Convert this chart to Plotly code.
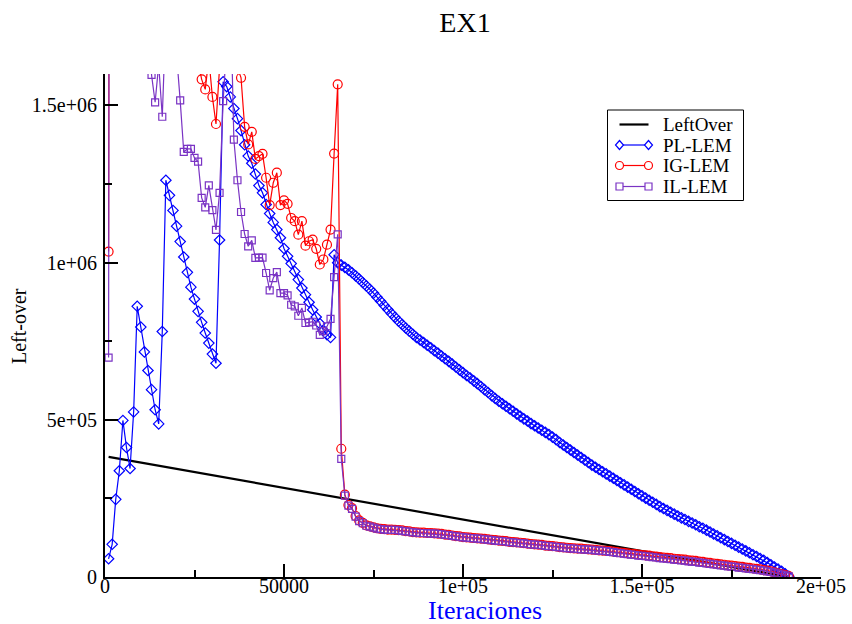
import plotly.graph_objects as go

# ---------------- data ----------------
iterations = list(range(1000, 192000, 1000))  # 1000 .. 191000

leftover_x = [1000, 50000, 100000, 150000, 191000]
leftover_y = [382000, 283500, 183000, 82400, 0]

pl_lem = [
    # 1-16
    58000, 104000, 247000, 338000, 498000, 412000, 345000, 525000,
    861000, 795000, 716000, 657000, 596000, 532000, 487000, 781000,
    # 17-32
    1262000, 1214000, 1166000, 1116000, 1067000, 1018000, 969000, 922000,
    884000, 845000, 810000, 776000, 744000, 709000, 680000, 1072000,
    # 33-48
    1575000, 1560000, 1527000, 1490000, 1458000, 1420000, 1375000, 1339000,
    1316000, 1282000, 1245000, 1222000, 1185000, 1156000, 1128000, 1105000,
    # 49-64
    1079000, 1045000, 1020000, 997000, 972000, 946000, 919000, 898000,
    874000, 850000, 827000, 806000, 785000, 771000, 762000, 1025000,
    # 65-74
    1000000, 992000, 985000, 977000, 968000, 958000, 948000, 937000, 926000, 915000,
    # 75-84
    903000, 890000, 877000, 864000, 851000, 838000, 826000, 814000, 803000, 792000,
    # 85-94
    782000, 772000, 762000, 754000, 746000, 737000, 729000, 720000, 712000, 703000,
    # 95-104
    694000, 686000, 677000, 668000, 659000, 650000, 641000, 633000, 624000, 615000,
    # 105-114
    606000, 596000, 587000, 577000, 568000, 559000, 551000, 543000, 535000, 527000,
    # 115-124
    519000, 511000, 503000, 496000, 488000, 481000, 474000, 467000, 460000, 453000,
    # 125-134
    445000, 437000, 428000, 420000, 412000, 404000, 396000, 388000, 380000, 372000,
    # 135-144
    364000, 356000, 349000, 342000, 335000, 328000, 321000, 314000, 307000, 300000,
    # 145-154
    293000, 286000, 279000, 272000, 265000, 258000, 251000, 244000, 238000, 231000,
    # 155-164
    224000, 218000, 212000, 206000, 200000, 194000, 188000, 183000, 177000, 172000,
    # 165-174
    166000, 160000, 155000, 149000, 143000, 137000, 131000, 125000, 119000, 113000,
    # 175-184
    107000, 101000, 95000, 89000, 83000, 77000, 71000, 65000, 59000, 53000,
    # 185-191
    46000, 39000, 32000, 25000, 18000, 10000, 2000,
]

ig_lem = [
    # 1-25
    1035000, 8000000, 7000000, 6000000, 5200000, 4600000, 4100000, 3700000,
    3400000, 3100000, 2900000, 2700000, 2500000, 2400000, 2300000, 2200000,
    2100000, 2000000, 1950000, 1900000, 1850000, 1800000, 1750000, 1700000, 1680000,
    # 26-45
    1640000, 1583000, 1551000, 1650000, 1527000, 1441000, 1650000, 1800000, 1900000, 1850000,
    1750000, 1620000, 1588000, 1432000, 1376000, 1416000, 1330000, 1339000, 1346000, 1270000,
    # 46-65
    1183000, 1254000, 1286000, 1183000, 1198000, 1187000, 1142000, 1132000, 1089000, 1132000,
    1054000, 1068000, 1073000, 1044000, 994000, 1010000, 1057000, 1105000, 1347000, 1567000,
    # 66-75
    408000, 262000, 229000, 219000, 194000, 180000, 172000, 164000, 161000, 158000,
    # 76-85
    155000, 153000, 152000, 151000, 151000, 150000, 149000, 148000, 146000, 145000,
    # 86-95
    143000, 142000, 141000, 141000, 140000, 140000, 139000, 138000, 137000, 135000,
    # 96-105
    134000, 132000, 130000, 129000, 127000, 126000, 125000, 124000, 123000, 122000,
    # 106-115
    121000, 120000, 118000, 117000, 116000, 115000, 114000, 112000, 111000, 110000,
    # 116-125
    109000, 108000, 106000, 105000, 104000, 103000, 102000, 100000, 99000, 98000,
    # 126-135
    97000, 95000, 94000, 93000, 92000, 91000, 90000, 90000, 89000, 88000,
    # 136-145
    87000, 86000, 85000, 84000, 83000, 82000, 81000, 79000, 78000, 77000,
    # 146-155
    75000, 74000, 73000, 71000, 70000, 69000, 68000, 66000, 65000, 63000,
    # 156-165
    62000, 61000, 60000, 58000, 57000, 56000, 55000, 53000, 52000, 51000,
    # 166-175
    49000, 48000, 46000, 45000, 43000, 42000, 40000, 39000, 37000, 36000,
    # 176-185
    35000, 33000, 32000, 30000, 29000, 27000, 26000, 24000, 22000, 20000,
    # 186-191
    18000, 15000, 12000, 9000, 6000, 3000,
]

il_lem = [
    # 1-20
    698000, 9000000, 7500000, 6000000, 5000000, 4300000, 3700000, 3200000, 2800000, 2400000,
    2100000, 1900000, 1597000, 1510000, 1630000, 1464000, 1900000, 2100000, 1900000, 1660000,
    # 21-40
    1516000, 1352000, 1362000, 1362000, 1333000, 1321000, 1206000, 1176000, 1246000, 1167000,
    1104000, 1222000, 1514000, 1700000, 1870000, 1391000, 1262000, 1161000, 1091000, 1052000,
    # 41-65
    1071000, 1015000, 1016000, 1016000, 967000, 912000, 951000, 970000, 903000, 903000,
    896000, 866000, 861000, 831000, 856000, 808000, 810000, 812000, 800000, 770000,
    782000, 797000, 821000, 954000, 1090000,
    # 66-75
    376000, 259000, 227000, 217000, 192000, 178000, 171000, 163000, 160000, 157000,
    # 76-85
    154000, 152000, 151000, 150000, 150000, 150000, 148000, 147000, 145000, 144000,
    # 86-95
    142000, 141000, 140000, 140000, 139000, 139000, 138000, 137000, 136000, 134000,
    # 96-105
    133000, 131000, 129000, 128000, 126000, 125000, 124000, 123000, 122000, 121000,
    # 106-115
    120000, 119000, 117000, 116000, 115000, 114000, 113000, 111000, 110000, 109000,
    # 116-125
    108000, 107000, 105000, 104000, 103000, 102000, 101000, 99000, 98000, 97000,
    # 126-135
    96000, 94000, 93000, 92000, 91000, 90000, 89000, 88000, 88000, 87000,
    # 136-145
    86000, 85000, 84000, 83000, 82000, 80000, 79000, 77000, 76000, 74000,
    # 146-155
    73000, 71000, 70000, 68000, 67000, 66000, 65000, 63000, 62000, 60000,
    # 156-165
    59000, 58000, 57000, 55000, 54000, 53000, 52000, 50000, 49000, 48000,
    # 166-175
    46000, 45000, 43000, 42000, 40000, 39000, 37000, 36000, 34000, 33000,
    # 176-185
    32000, 30000, 29000, 27000, 26000, 25000, 23000, 22000, 20000, 18000,
    # 186-191
    16000, 14000, 11000, 8000, 5000, 2000,
]

series_names = ["LeftOver", "PL-LEM", "IG-LEM", "IL-LEM"]

x_tickvals = [0, 50000, 100000, 150000, 200000]
x_ticktext = ["0", "50000", "1e+05", "1.5e+05", "2e+05"]
x_minor = [25000, 75000, 125000, 175000]
y_tickvals = [0, 500000, 1000000, 1500000]
y_ticktext = ["0", "5e+05", "1e+06", "1.5e+06"]
y_minor = [250000, 750000, 1250000]

# ---------------- styling / layout ----------------
SERIF = "Liberation Serif, Times New Roman, serif"
PURPLE = "#7a33c4"
W, H = 852, 624
ML, MR, MT, MB = 105, 31, 74, 47
PW, PH = W - ML - MR, H - MT - MB


def px(x):  # pixel x -> paper x
    return (x - ML) / PW


def py(y):  # pixel y -> paper y
    return (H - MB - y) / PH


fig = go.Figure()
fig.add_trace(go.Scatter(x=leftover_x, y=leftover_y, mode="lines", name=series_names[0],
                         line=dict(color="black", width=2.2)))
fig.add_trace(go.Scatter(x=iterations, y=pl_lem, mode="lines+markers", name=series_names[1],
                         line=dict(color="blue", width=1.2),
                         marker=dict(symbol="diamond-open", size=8, color="blue",
                                     line=dict(width=1.2, color="blue"))))
fig.add_trace(go.Scatter(x=iterations, y=ig_lem, mode="lines+markers", name=series_names[2],
                         line=dict(color="red", width=1.2),
                         marker=dict(symbol="circle-open", size=9, color="red",
                                     line=dict(width=1.2, color="red"))))
fig.add_trace(go.Scatter(x=iterations, y=il_lem, mode="lines+markers", name=series_names[3],
                         line=dict(color=PURPLE, width=1.2),
                         marker=dict(symbol="square-open", size=7, color=PURPLE,
                                     line=dict(width=1.2, color=PURPLE))))

axis_common = dict(
    showline=True, linecolor="black", linewidth=2, mirror=False,
    showgrid=False, zeroline=False, automargin=False,
    ticks="inside", ticklen=13, tickwidth=1.5, tickcolor="black",
    tickfont=dict(family=SERIF, size=20, color="black"),
    tickmode="array",
)

# ---- hand-drawn legend (xmgrace style) ----
shapes = []
annotations = []
shapes.append(dict(type="rect", xref="paper", yref="paper",
                   x0=px(607.5), x1=px(743.5), y0=py(110), y1=py(200.5),
                   line=dict(color="black", width=1), fillcolor="white", layer="above"))
rows = [124.5, 145, 165.5, 186.5]
colors = ["black", "blue", "red", PURPLE]
lx0, lx1 = 619.5, 648.5
for i, (name, c, yy) in enumerate(zip(series_names, colors, rows)):
    shapes.append(dict(type="line", xref="paper", yref="paper",
                       x0=px(lx0), x1=px(lx1), y0=py(yy), y1=py(yy),
                       line=dict(color=c, width=2.2 if i == 0 else 1.2), layer="above"))
    for mx in (lx0, lx1):
        if i == 1:
            path = "M {a},{b} L {c},{d} L {a},{e} L {f},{d} Z".format(
                a=px(mx), b=py(yy - 4.5), c=px(mx + 4), d=py(yy), e=py(yy + 4.5), f=px(mx - 4))
            shapes.append(dict(type="path", xref="paper", yref="paper", path=path,
                               line=dict(color=c, width=1.2), fillcolor="white", layer="above"))
        elif i == 2:
            shapes.append(dict(type="circle", xref="paper", yref="paper",
                               x0=px(mx - 4), x1=px(mx + 4), y0=py(yy + 4), y1=py(yy - 4),
                               line=dict(color=c, width=1.2), fillcolor="white", layer="above"))
        elif i == 3:
            shapes.append(dict(type="rect", xref="paper", yref="paper",
                               x0=px(mx - 3.5), x1=px(mx + 3.5), y0=py(yy + 3.5), y1=py(yy - 3.5),
                               line=dict(color=c, width=1.2), fillcolor="white", layer="above"))
    annotations.append(dict(text=name, xref="paper", yref="paper", x=px(661), y=py(yy),
                            xanchor="left", yanchor="middle", showarrow=False,
                            font=dict(family=SERIF, size=19, color="black")))

# axis titles as annotations (positioned as in the reference)
annotations.append(dict(text="Iteraciones", xref="paper", yref="paper", x=px(485), y=py(610),
                        xanchor="center", yanchor="middle", showarrow=False,
                        font=dict(family=SERIF, size=26, color="blue")))
annotations.append(dict(text="Left-over", xref="paper", yref="paper", x=px(19), y=py(326),
                        xanchor="center", yanchor="middle", showarrow=False, textangle=-90,
                        font=dict(family=SERIF, size=20, color="black")))

fig.update_layout(
    width=W, height=H,
    margin=dict(l=ML, r=MR, t=MT, b=MB),
    paper_bgcolor="white", plot_bgcolor="white",
    title=dict(text="EX1", x=px(465), xref="paper", xanchor="center",
               y=1 - 22 / H, yref="container", yanchor="middle",
               font=dict(family=SERIF, size=28, color="black")),
    xaxis=dict(**axis_common, range=[0, 200000], tickvals=x_tickvals, ticktext=x_ticktext,
               minor=dict(tickvals=x_minor, ticks="inside", ticklen=7, tickwidth=1.5,
                          tickcolor="black"),
               ticklabelstandoff=-10),
    yaxis=dict(**axis_common, range=[0, 1600000], tickvals=y_tickvals, ticktext=y_ticktext,
               minor=dict(tickvals=y_minor, ticks="inside", ticklen=7, tickwidth=1.5,
                          tickcolor="black"),
               ticklabelstandoff=2),
    showlegend=False,
    shapes=shapes,
    annotations=annotations,
)

fig.write_html("out.html")
